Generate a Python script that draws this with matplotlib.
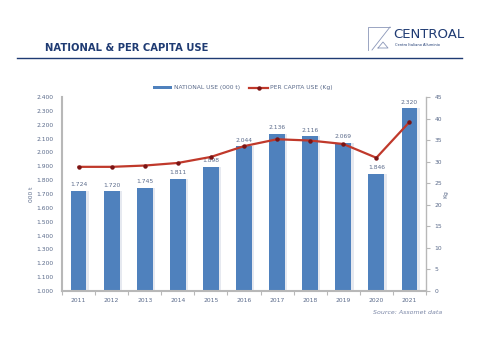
import numpy as np
import matplotlib.pyplot as plt
from matplotlib.lines import Line2D

years = ['2011', '2012', '2013', '2014', '2015', '2016', '2017', '2018', '2019', '2020', '2021']
national_use = [1724, 1720, 1745, 1811, 1898, 2044, 2136, 2116, 2069, 1846, 2320]
per_capita = [28.8, 28.8, 29.1, 29.7, 31.1, 33.6, 35.2, 34.9, 34.1, 30.9, 39.2]

navy = '#1f3b73'
txt = '#5a6a8a'
bar_c = '#4f81bd'
line_c = '#c0392b'
spine_c = '#b8b8b8'

fig = plt.figure(figsize=(4.81, 3.6), dpi=100)
W, H = 481, 360

def fx(px):
    return px / W

def fy(py):
    return 1 - py / H

# header
fig.text(fx(45), fy(48), 'NATIONAL & PER CAPITA USE', color=navy, fontsize=7.2,
         fontweight='semibold', va='center', ha='left', family='DejaVu Sans')
fig.add_artist(Line2D([fx(17), fx(462)], [fy(57.5), fy(57.5)], color=navy, lw=1.0))

# logo
lc = '#8a96b8'
fig.add_artist(Line2D([fx(368), fx(368), fx(390)], [fy(50), fy(27), fy(27)], color=lc, lw=0.6))
fig.add_artist(Line2D([fx(372), fx(390)], [fy(50), fy(27)], color=lc, lw=0.6))
fig.add_artist(Line2D([fx(378), fx(383), fx(388), fx(378)], [fy(48), fy(42), fy(48), fy(48)], color=lc, lw=0.6))
fig.text(fx(393), fy(34), 'CENTROAL', color=navy, fontsize=9.5, va='center', ha='left')
fig.text(fx(395), fy(45), 'Centro Italiano Alluminio', color=navy, fontsize=2.6, va='center', ha='left')

# chart
ax = fig.add_axes([fx(62), fy(291), fx(426) - fx(62), fy(97) - fy(291)])
x = np.arange(len(years))
# soft shadow
ax.bar(x + 0.04, national_use, width=0.54, color='#e6e9f0', zorder=1)
bars = ax.bar(x, national_use, width=0.48, color=bar_c, zorder=2, label='NATIONAL USE (000 t)')
for xi, v in zip(x, national_use):
    s = f'{v:,}'.replace(',', '.')
    ax.text(xi, v + 25, s, ha='center', va='bottom', fontsize=4.3, color=txt)

ax.set_xlim(-0.5, len(years) - 0.5)
ax.set_ylim(1000, 2400)
yt = np.arange(1000, 2401, 100)
ax.set_yticks(yt)
ax.set_yticklabels([f'{v:,}'.replace(',', '.') for v in yt])
ax.set_xticks(x)
ax.set_xticklabels(years)
ax.set_xticks(np.arange(-0.5, len(years)), minor=True)
ax.tick_params(axis='x', which='major', length=0, labelsize=4.3, colors=txt, pad=5)
ax.tick_params(axis='x', which='minor', length=3, color=spine_c, width=0.8)
ax.tick_params(axis='y', length=0, labelsize=4.3, colors=txt, pad=6)
ax.set_ylabel('000 t', fontsize=4.3, color=txt, labelpad=2)
for sp in ['top']:
    ax.spines[sp].set_visible(False)
ax.spines['right'].set_visible(False)
ax.spines['left'].set_color(spine_c)
ax.spines['left'].set_linewidth(1.5)
ax.spines['bottom'].set_color(spine_c)
ax.spines['bottom'].set_linewidth(1.5)

ax2 = ax.twinx()
ax2.plot(x, per_capita, color=line_c, lw=1.6, marker='o', markersize=2.2,
         markerfacecolor='#7a1414', markeredgecolor='#7a1414', zorder=5, label='PER CAPITA USE (Kg)')
ax2.set_ylim(0, 45)
ax2.set_yticks(np.arange(0, 46, 5))
ax2.tick_params(axis='y', length=3, color=spine_c, labelsize=4.3, colors=txt, pad=3)
ax2.tick_params(axis='y', which='major', color=spine_c)
ax2.set_ylabel('Kg', fontsize=4.3, color=txt, labelpad=1)
for sp in ['top', 'left', 'bottom']:
    ax2.spines[sp].set_visible(False)
ax2.spines['right'].set_color(spine_c)
ax2.spines['right'].set_linewidth(1.0)
ax.set_zorder(ax2.get_zorder() - 1)
ax2.patch.set_visible(False)

h1, l1 = ax.get_legend_handles_labels()
h2, l2 = ax2.get_legend_handles_labels()
leg = fig.legend([h1[0], h2[0]], ['NATIONAL USE (000 t)', 'PER CAPITA USE (Kg)'],
                 loc='center', bbox_to_anchor=(fx(243), fy(88)), ncol=2, frameon=False,
                 fontsize=4.3, handlelength=3.2, handleheight=0.5, columnspacing=1.5, handletextpad=0.3)
for t in leg.get_texts():
    t.set_color(txt)

fig.text(fx(442), fy(313), 'Source: Assomet data', fontsize=4.5, style='italic', color='#7a86a6',
         ha='right', va='center')

fig.savefig('out.png', dpi=100)
